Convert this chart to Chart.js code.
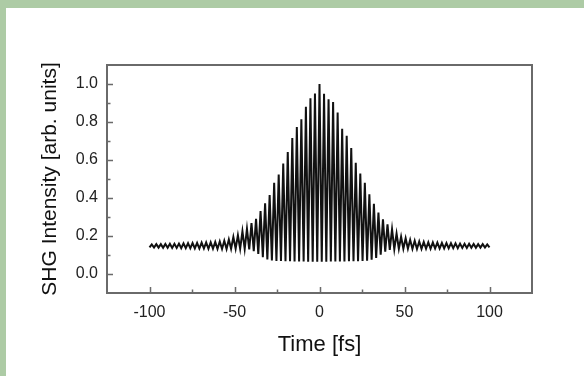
<!DOCTYPE html>
<html>
<head>
<meta charset="utf-8">
<script src="https://cdn.jsdelivr.net/npm/chart.js@4/dist/chart.umd.min.js"></script>
<style>
  body { margin: 0; background: #fff; }
  #wrap {
    position: absolute; left: 0; top: 0;
    width: 584px; height: 376px; box-sizing: border-box;
    border-top: 8px solid #adcba5; border-left: 6px solid #adcba5;
    background: #fff;
  }
  canvas { display: block; }
</style>
</head>
<body>
<div id="wrap"><canvas id="grafico" width="578" height="368"></canvas></div>
<script>
// ----- dados (extremos das franjas) -----
const tempoFs = [
  -100.00, -98.67, -97.33, -96.00, -94.67, -93.33, -92.00, -90.67, -89.33, -88.00,
  -86.67, -85.33, -84.00, -82.67, -81.33, -80.00, -78.67, -77.33, -76.00, -74.67,
  -73.33, -72.00, -70.67, -69.33, -68.00, -66.67, -65.33, -64.00, -62.67, -61.33,
  -60.00, -58.67, -57.33, -56.00, -54.67, -53.33, -52.00, -50.67, -49.33, -48.00,
  -46.67, -45.33, -44.00, -42.67, -41.33, -40.00, -38.67, -37.33, -36.00, -34.67,
  -33.33, -32.00, -30.67, -29.33, -28.00, -26.67, -25.33, -24.00, -22.67, -21.33,
  -20.00, -18.67, -17.33, -16.00, -14.67, -13.33, -12.00, -10.67, -9.33, -8.00,
  -6.67, -5.33, -4.00, -2.67, -1.33, 0.00,
  1.33, 2.67, 4.00, 5.33, 6.67, 8.00, 9.33, 10.67, 12.00, 13.33,
  14.67, 16.00, 17.33, 18.67, 20.00, 21.33, 22.67, 24.00, 25.33, 26.67,
  28.00, 29.33, 30.67, 32.00, 33.33, 34.67, 36.00, 37.33, 38.67, 40.00,
  41.33, 42.67, 44.00, 45.33, 46.67, 48.00, 49.33, 50.67, 52.00, 53.33,
  54.67, 56.00, 57.33, 58.67, 60.00, 61.33, 62.67, 64.00, 65.33, 66.67,
  68.00, 69.33, 70.67, 72.00, 73.33, 74.67, 76.00, 77.33, 78.67, 80.00,
  81.33, 82.67, 84.00, 85.33, 86.67, 88.00, 89.33, 90.67, 92.00, 93.33,
  94.67, 96.00, 97.33, 98.67, 100.00
];

const intensidadeShg = [
  0.140, 0.156, 0.139, 0.157, 0.139, 0.157, 0.138, 0.158, 0.138, 0.159,
  0.137, 0.159, 0.137, 0.160, 0.136, 0.161, 0.136, 0.162, 0.135, 0.163,
  0.135, 0.164, 0.134, 0.165, 0.134, 0.166, 0.133, 0.167, 0.133, 0.169,
  0.132, 0.171, 0.132, 0.175, 0.132, 0.182, 0.133, 0.195, 0.133, 0.204,
  0.133, 0.225, 0.132, 0.238, 0.129, 0.268, 0.120, 0.290, 0.105, 0.331,
  0.088, 0.372, 0.077, 0.415, 0.071, 0.480, 0.068, 0.524, 0.068, 0.581,
  0.067, 0.642, 0.067, 0.716, 0.066, 0.773, 0.066, 0.815, 0.066, 0.880,
  0.065, 0.925, 0.065, 0.950, 0.065, 1.000,
  0.065, 0.948, 0.065, 0.920, 0.066, 0.905, 0.066, 0.850, 0.066, 0.765,
  0.066, 0.728, 0.067, 0.663, 0.067, 0.585, 0.067, 0.529, 0.068, 0.480,
  0.070, 0.419, 0.075, 0.370, 0.085, 0.323, 0.102, 0.288, 0.118, 0.262,
  0.127, 0.236, 0.131, 0.213, 0.133, 0.196, 0.133, 0.188, 0.133, 0.180,
  0.132, 0.175, 0.132, 0.171, 0.132, 0.169, 0.133, 0.167, 0.133, 0.166,
  0.134, 0.165, 0.134, 0.164, 0.135, 0.163, 0.135, 0.162, 0.136, 0.161,
  0.136, 0.160, 0.137, 0.159, 0.137, 0.159, 0.138, 0.158, 0.138, 0.157,
  0.139, 0.157, 0.139, 0.156, 0.140
];

const ticksX = [-100, -50, 0, 50, 100];
const ticksXMenores = [-75, -25, 25, 75];
const ticksY = [0.0, 0.2, 0.4, 0.6, 0.8, 1.0];
const ticksYMenores = [0.1, 0.3, 0.5, 0.7, 0.9];

const pontos = tempoFs.map((t, i) => ({ x: t, y: intensidadeShg[i] }));

const fonteTicks = { family: '"Liberation Sans", Arial, sans-serif', size: 16 };
const fonteTitulo = { family: '"Liberation Sans", Arial, sans-serif', size: 22 };

// moldura + ticks para dentro
const molduraTicks = {
  id: 'molduraTicks',
  afterDraw(chart) {
    const { ctx, chartArea: a, scales: { x, y } } = chart;
    ctx.save();
    ctx.strokeStyle = '#6a6a6a';
    ctx.lineWidth = 2;
    ctx.strokeRect(a.left, a.top, a.right - a.left, a.bottom - a.top);

    ctx.lineWidth = 1.5;
    ctx.beginPath();
    ticksX.forEach(v => {
      const px = Math.round(x.getPixelForValue(v)) + 0.5;
      ctx.moveTo(px, a.bottom); ctx.lineTo(px, a.bottom - 6);
    });
    ticksXMenores.forEach(v => {
      const px = Math.round(x.getPixelForValue(v)) + 0.5;
      ctx.moveTo(px, a.bottom); ctx.lineTo(px, a.bottom - 3.5);
    });
    ticksY.forEach(v => {
      const py = Math.round(y.getPixelForValue(v)) + 0.5;
      ctx.moveTo(a.left, py); ctx.lineTo(a.left + 6, py);
    });
    ticksYMenores.forEach(v => {
      const py = Math.round(y.getPixelForValue(v)) + 0.5;
      ctx.moveTo(a.left, py); ctx.lineTo(a.left + 3.5, py);
    });
    ctx.stroke();
    ctx.restore();
  }
};

const ctxGrafico = document.getElementById('grafico').getContext('2d');

new Chart(ctxGrafico, {
  type: 'line',
  data: {
    datasets: [{
      label: 'SHG',
      data: pontos,
      borderColor: '#111',
      borderWidth: 2,
      pointRadius: 0,
      tension: 0,
      fill: false
    }]
  },
  options: {
    responsive: false,
    animation: false,
    layout: { padding: { top: 57, right: 52, left: 0, bottom: 0 } },
    plugins: {
      legend: { display: false },
      tooltip: { enabled: false }
    },
    scales: {
      x: {
        type: 'linear',
        min: -125,
        max: 125,
        grid: { display: false, drawTicks: false },
        border: { display: false },
        afterBuildTicks: s => { s.ticks = ticksX.map(v => ({ value: v })); },
        afterFit: s => { s.height = 83; },
        ticks: {
          padding: 10,
          color: '#222',
          font: fonteTicks,
          maxRotation: 0,
          callback: v => String(v)
        },
        title: {
          display: true,
          text: 'Time [fs]',
          color: '#111',
          font: fonteTitulo,
          padding: { top: 0, bottom: 18 }
        }
      },
      y: {
        type: 'linear',
        min: -0.1,
        max: 1.1,
        grid: { display: false, drawTicks: false },
        border: { display: false },
        afterBuildTicks: s => { s.ticks = ticksY.map(v => ({ value: v })); },
        afterFit: s => { s.width = 101; },
        ticks: {
          padding: 9,
          color: '#222',
          font: fonteTicks,
          callback: v => Number(v).toFixed(1)
        },
        title: {
          display: true,
          text: 'SHG Intensity [arb. units]',
          color: '#111',
          font: { family: '"Liberation Sans", Arial, sans-serif', size: 21 },
          padding: { top: 32, bottom: 0 }
        }
      }
    }
  },
  plugins: [molduraTicks]
});
</script>
</body>
</html>
